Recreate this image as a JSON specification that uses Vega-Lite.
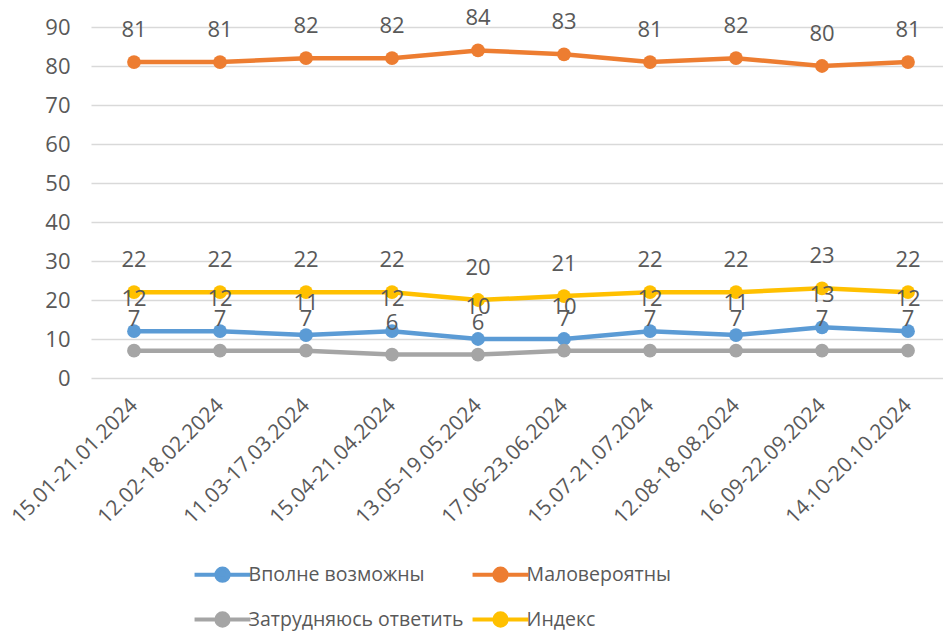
{
  "$schema": "https://vega.github.io/schema/vega-lite/v6.json",
  "autosize": "none",
  "width": 852,
  "height": 351,
  "padding": {"left": 91, "top": 27, "right": 0, "bottom": 253},
  "background": "white",
  "config": {
    "font": "Open Sans",
    "view": {"stroke": null},
    "axis": {"labelFont": "Open Sans", "labelColor": "#595959", "labelFontSize": 22}
  },
  "data": {
    "values": [
      {"period": "15.01-21.01.2024", "series": "Вполне возможны", "value": 12},
      {"period": "12.02-18.02.2024", "series": "Вполне возможны", "value": 12},
      {"period": "11.03-17.03.2024", "series": "Вполне возможны", "value": 11},
      {"period": "15.04-21.04.2024", "series": "Вполне возможны", "value": 12},
      {"period": "13.05-19.05.2024", "series": "Вполне возможны", "value": 10},
      {"period": "17.06-23.06.2024", "series": "Вполне возможны", "value": 10},
      {"period": "15.07-21.07.2024", "series": "Вполне возможны", "value": 12},
      {"period": "12.08-18.08.2024", "series": "Вполне возможны", "value": 11},
      {"period": "16.09-22.09.2024", "series": "Вполне возможны", "value": 13},
      {"period": "14.10-20.10.2024", "series": "Вполне возможны", "value": 12},
      {"period": "15.01-21.01.2024", "series": "Маловероятны", "value": 81},
      {"period": "12.02-18.02.2024", "series": "Маловероятны", "value": 81},
      {"period": "11.03-17.03.2024", "series": "Маловероятны", "value": 82},
      {"period": "15.04-21.04.2024", "series": "Маловероятны", "value": 82},
      {"period": "13.05-19.05.2024", "series": "Маловероятны", "value": 84},
      {"period": "17.06-23.06.2024", "series": "Маловероятны", "value": 83},
      {"period": "15.07-21.07.2024", "series": "Маловероятны", "value": 81},
      {"period": "12.08-18.08.2024", "series": "Маловероятны", "value": 82},
      {"period": "16.09-22.09.2024", "series": "Маловероятны", "value": 80},
      {"period": "14.10-20.10.2024", "series": "Маловероятны", "value": 81},
      {"period": "15.01-21.01.2024", "series": "Затрудняюсь ответить", "value": 7},
      {"period": "12.02-18.02.2024", "series": "Затрудняюсь ответить", "value": 7},
      {"period": "11.03-17.03.2024", "series": "Затрудняюсь ответить", "value": 7},
      {"period": "15.04-21.04.2024", "series": "Затрудняюсь ответить", "value": 6},
      {"period": "13.05-19.05.2024", "series": "Затрудняюсь ответить", "value": 6},
      {"period": "17.06-23.06.2024", "series": "Затрудняюсь ответить", "value": 7},
      {"period": "15.07-21.07.2024", "series": "Затрудняюсь ответить", "value": 7},
      {"period": "12.08-18.08.2024", "series": "Затрудняюсь ответить", "value": 7},
      {"period": "16.09-22.09.2024", "series": "Затрудняюсь ответить", "value": 7},
      {"period": "14.10-20.10.2024", "series": "Затрудняюсь ответить", "value": 7},
      {"period": "15.01-21.01.2024", "series": "Индекс", "value": 22},
      {"period": "12.02-18.02.2024", "series": "Индекс", "value": 22},
      {"period": "11.03-17.03.2024", "series": "Индекс", "value": 22},
      {"period": "15.04-21.04.2024", "series": "Индекс", "value": 22},
      {"period": "13.05-19.05.2024", "series": "Индекс", "value": 20},
      {"period": "17.06-23.06.2024", "series": "Индекс", "value": 21},
      {"period": "15.07-21.07.2024", "series": "Индекс", "value": 22},
      {"period": "12.08-18.08.2024", "series": "Индекс", "value": 22},
      {"period": "16.09-22.09.2024", "series": "Индекс", "value": 23},
      {"period": "14.10-20.10.2024", "series": "Индекс", "value": 22}
    ]
  },
  "encoding": {
    "x": {
      "field": "period", "type": "ordinal", "sort": null,
      "scale": {"type": "point", "range": [0, 860], "padding": 0.5},
      "axis": {"title": null, "domain": false, "ticks": false, "grid": false, "labelAngle": -45, "labelPadding": 24, "labelAlign": "right", "labelBaseline": "middle", "labelFontSize": 21}
    },
    "y": {
      "field": "value", "type": "quantitative",
      "scale": {"domain": [0, 90], "nice": false},
      "axis": {"title": null, "domain": false, "ticks": false, "values": [0,10,20,30,40,50,60,70,80,90], "labelPadding": 21, "gridColor": "#D9D9D9", "gridWidth": 1.5}
    },
    "color": {
      "field": "series", "type": "nominal",
      "scale": {"domain": ["Вполне возможны", "Маловероятны", "Затрудняюсь ответить", "Индекс"], "range": ["#5B9BD5", "#ED7D31", "#A5A5A5", "#FFC000"]},
      "legend": {
        "title": null, "orient": "none", "legendX": 118, "legendY": 534, "columns": 2, "direction": "horizontal",
        "padding": 0, "columnPadding": 0, "rowPadding": 16,
        "symbolType": "M-2.5,0L2.5,0M-0.55,0A0.55,0.55,0,1,1,0.55,0A0.55,0.55,0,1,1,-0.55,0Z",
        "symbolSize": 500, "symbolStrokeWidth": 4, "labelOffset": 12.6,
        "labelFont": "Open Sans", "labelFontSize": 19.5, "labelColor": "#595959", "labelLimit": 400,
        "encode": {"symbols": {"update": {"fill": {"scale": "color", "field": "value"}, "stroke": {"scale": "color", "field": "value"}, "opacity": {"value": 1}}}}
      }
    }
  },
  "layer": [
    {"mark": {"type": "line", "strokeWidth": 4.5}},
    {"mark": {"type": "point", "filled": true, "size": 190, "opacity": 1}},
    {"mark": {"type": "text", "dy": -32, "fontSize": 22, "fill": "#595959", "baseline": "middle"}, "encoding": {"text": {"field": "value", "type": "quantitative"}, "color": {"value": "#595959"}}}
  ]
}
